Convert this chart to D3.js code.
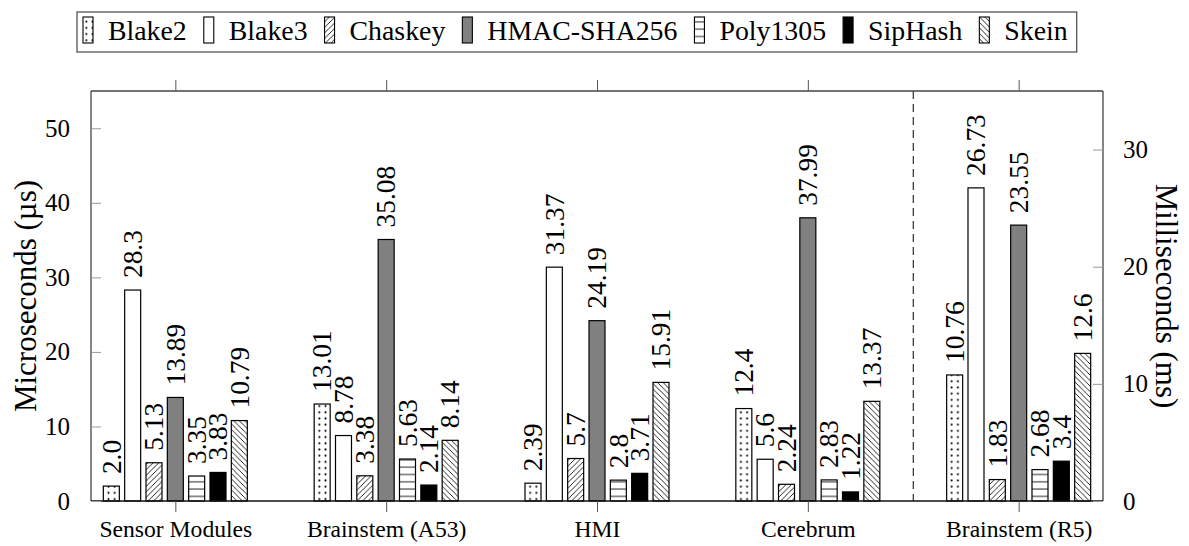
<!DOCTYPE html>
<html><head><meta charset="utf-8">
<script src="https://cdn.jsdelivr.net/npm/d3@7"></script>
<style>
body{margin:0;background:#fff}
svg{display:block}
</style>
</head><body>
<svg id="c" width="1189" height="546"></svg>
<script>
// ---------- data ----------
const categories = ["Sensor Modules", "Brainstem (A53)", "HMI", "Cerebrum", "Brainstem (R5)"];
const seriesNames = ["Blake2", "Blake3", "Chaskey", "HMAC-SHA256", "Poly1305", "SipHash", "Skein"];
// last category is measured in milliseconds (right axis), others in microseconds (left axis)
const categoryAxis = ["us", "us", "us", "us", "ms"];
const blake2   = [2.0, 13.01, 2.39, 12.4, 10.76];
const blake3   = [28.3, 8.78, 31.37, 5.6, 26.73];
const chaskey  = [5.13, 3.38, 5.7, 2.24, 1.83];
const hmac     = [13.89, 35.08, 24.19, 37.99, 23.55];
const poly1305 = [3.35, 5.63, 2.8, 2.83, 2.68];
const siphash  = [3.83, 2.14, 3.71, 1.22, 3.4];
const skein    = [10.79, 8.14, 15.91, 13.37, 12.6];
const leftTicks = [0, 10, 20, 30, 40, 50];
const rightTicks = [0, 10, 20, 30];
const leftTitle = "Microseconds (µs)";
const rightTitle = "Milliseconds (ms)";

const seriesValues = [blake2, blake3, chaskey, hmac, poly1305, siphash, skein];
const fills = ["url(#p-dots)", "#ffffff", "url(#p-ne)", "#808080", "url(#p-h)", "#000000", "url(#p-nw)"];
const FONT = '"Liberation Serif"';

// ---------- layout ----------
const svg = d3.select("#c");
svg.append("rect").attr("width", 1189).attr("height", 546).attr("fill", "#fff");
const L = 91, R = 1103, T = 91, B = 501;

// font size fitting: choose a size so that a sample string has the reference width
const probe = svg.append("text").attr("font-family", FONT).attr("font-size", 100).attr("x", -1000).attr("y", -1000);
function fit(sample, targetW) {
  probe.text(sample);
  const w = probe.node().getComputedTextLength();
  return 100 * targetW / w;
}
const lfs = fit("28.3", 48);
const tickFs = fit("Sensor Modules", 153);
const yTickFs = fit("50", 25);
const titleFs = Math.min(31, (fit(leftTitle, 240) + fit(rightTitle, 220)) / 2);
const legFs = (fit("Chaskey", 100) + fit("Poly1305", 102)) / 2;
probe.remove();

const x = d3.scaleLinear().domain([-0.4, categories.length - 1 + 0.4]).range([L, R]);
const xs = d3.scaleBand().domain(seriesNames).range([-74.67, 74.67]).paddingInner(0.25).paddingOuter(0.125);
const yL = d3.scaleLinear().domain([0, 55]).range([B, T]);
const yR = d3.scaleLinear().domain([0, 35]).range([B, T]);
const yOf = (ci) => categoryAxis[ci] === "ms" ? yR : yL;

// ---------- patterns ----------
const defs = svg.append("defs");
function pat(id, w, h, yoff) {
  const p = defs.append("pattern").attr("id", id).attr("patternUnits", "userSpaceOnUse")
    .attr("width", w).attr("height", h).attr("x", 0).attr("y", yoff || 0);
  p.append("rect").attr("width", w).attr("height", h).attr("fill", "#fff");
  return p;
}
const pd = pat("p-dots", 6.2, 6.2);
pd.append("circle").attr("cx", 3.1).attr("cy", 3.1).attr("r", 1.0).attr("fill", "#000");
const s = 5.5;
pat("p-ne", s, s).append("path")
  .attr("d", `M0,${s} L${s},0 M${-1},1 L1,${-1} M${s-1},${s+1} L${s+1},${s-1}`)
  .attr("stroke", "#000").attr("stroke-width", 0.85);
pat("p-nw", s, s).append("path")
  .attr("d", `M0,0 L${s},${s} M${-1},${s-1} L1,${s+1} M${s-1},${-1} L${s+1},1`)
  .attr("stroke", "#000").attr("stroke-width", 0.85);
pat("p-h", 10, 7.3, -3.65).append("line")
  .attr("x1", 0).attr("x2", 10).attr("y1", 3.65).attr("y2", 3.65)
  .attr("stroke", "#000").attr("stroke-width", 0.9);

// ---------- bars ----------
const barData = [];
categories.forEach((c, ci) => {
  seriesNames.forEach((sn, si) => {
    barData.push({ci, si, v: seriesValues[si][ci]});
  });
});
svg.append("g").selectAll("rect").data(barData).join("rect")
  .attr("x", d => x(d.ci) + xs(seriesNames[d.si]))
  .attr("width", xs.bandwidth())
  .attr("y", d => yOf(d.ci)(d.v))
  .attr("height", d => B - yOf(d.ci)(d.v))
  .attr("fill", d => fills[d.si])
  .attr("stroke", "#000").attr("stroke-width", 1.2);

// value labels
const fmt = v => Number.isInteger(v) ? v.toFixed(1) : String(v);
svg.append("g").selectAll("text").data(barData).join("text")
  .attr("transform", d => {
    const cx = x(d.ci) + xs(seriesNames[d.si]) + xs.bandwidth() / 2;
    return `translate(${cx + 0.34 * lfs},${yOf(d.ci)(d.v) - 12}) rotate(-90)`;
  })
  .attr("font-family", FONT).attr("font-size", lfs).attr("text-anchor", "start").attr("fill", "#000")
  .text(d => fmt(d.v));

// dashed separator between µs and ms groups
svg.append("line")
  .attr("x1", x(3.5)).attr("x2", x(3.5)).attr("y1", T).attr("y2", B)
  .attr("stroke", "#000").attr("stroke-width", 1).attr("stroke-dasharray", "8,5");

// ---------- axes ----------
const frame = svg.append("g");
frame.append("line").attr("x1", L).attr("x2", R).attr("y1", T).attr("y2", T).attr("stroke", "#444").attr("stroke-width", 1.3);
frame.append("line").attr("x1", L).attr("x2", L).attr("y1", T).attr("y2", B).attr("stroke", "#444").attr("stroke-width", 1.3);
frame.append("line").attr("x1", R).attr("x2", R).attr("y1", T).attr("y2", B).attr("stroke", "#444").attr("stroke-width", 1.3);
frame.append("line").attr("x1", L).attr("x2", R).attr("y1", B).attr("y2", B).attr("stroke", "#111").attr("stroke-width", 1.3);

const axL = d3.axisLeft(yL).tickValues(leftTicks).tickSize(-10).tickPadding(21).tickFormat(d3.format("d"));
const gL = svg.append("g").attr("transform", `translate(${L},0)`).call(axL);
const axR = d3.axisRight(yR).tickValues(rightTicks).tickSize(-10).tickPadding(20).tickFormat(d3.format("d"));
const gR = svg.append("g").attr("transform", `translate(${R},0)`).call(axR);
const axB = d3.axisBottom(x).tickValues(d3.range(categories.length)).tickSize(11).tickPadding(12)
  .tickFormat(i => categories[i]);
const gB = svg.append("g").attr("transform", `translate(0,${B})`).call(axB);
const axT = d3.axisTop(x).tickValues(d3.range(categories.length)).tickSize(11).tickFormat("");
const gT = svg.append("g").attr("transform", `translate(0,${T})`).call(axT);

[gL, gR, gB, gT].forEach(g => {
  g.select(".domain").remove();
  g.attr("font-family", FONT);
  g.selectAll("text").attr("fill", "#000");
});
gL.selectAll(".tick line").attr("stroke", "#999").attr("stroke-width", 1);
gR.selectAll(".tick line").attr("stroke", "#999").attr("stroke-width", 1);
gB.selectAll(".tick line").attr("stroke", "#555").attr("stroke-width", 1);
gT.selectAll(".tick line").attr("stroke", "#555").attr("stroke-width", 1);
gL.attr("font-size", yTickFs);
gR.attr("font-size", yTickFs);
gB.attr("font-size", tickFs);
gB.selectAll("text").attr("dy", 0).attr("y", 36);

// axis titles
svg.append("text").attr("transform", `translate(36,${(T + B) / 2}) rotate(-90)`)
  .attr("font-family", FONT).attr("text-anchor", "middle").attr("font-size", titleFs).attr("fill", "#000").text(leftTitle);
svg.append("text").attr("transform", `translate(1156,${(T + B) / 2}) rotate(90)`)
  .attr("font-family", FONT).attr("text-anchor", "middle").attr("font-size", titleFs).attr("fill", "#000").text(rightTitle);

// ---------- legend ----------
const leg = svg.append("g").attr("font-family", FONT);
const swW = 10, swH = 26, gapSwText = 15, gapItem = 17, padL = 6, padR = 9;
const boxTop = 12, boxBot = 52, baseY = 40;
let cur = padL;
seriesNames.forEach((sn, si) => {
  const g = leg.append("g");
  g.append("rect").attr("x", cur).attr("y", 17).attr("width", swW).attr("height", swH)
    .attr("fill", fills[si]).attr("stroke", "#000").attr("stroke-width", 1.1);
  const t = g.append("text").attr("x", cur + swW + gapSwText).attr("y", baseY)
    .attr("font-size", legFs).attr("fill", "#000").text(sn);
  cur += swW + gapSwText + t.node().getComputedTextLength() + gapItem;
});
const totalW = cur - gapItem + padR;
const boxLeft = 77;
leg.attr("transform", `translate(${boxLeft},0)`);
leg.insert("rect", ":first-child").attr("x", 0).attr("y", boxTop).attr("width", totalW).attr("height", boxBot - boxTop)
  .attr("fill", "#fff").attr("stroke", "#555").attr("stroke-width", 1.3);
</script>
</body></html>
